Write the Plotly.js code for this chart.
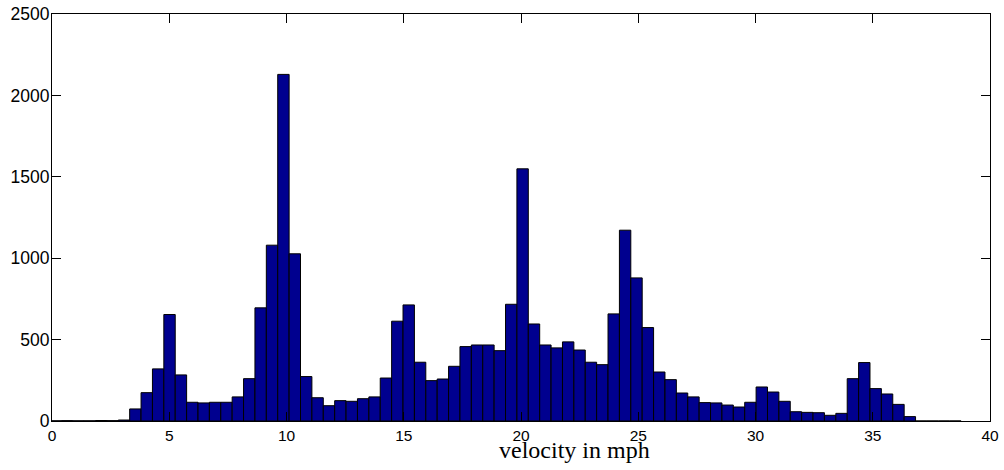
<!DOCTYPE html>
<html>
<head>
<meta charset="utf-8">
<script src="https://cdn.plot.ly/plotly-3.0.1.min.js"></script>
<style>html,body{margin:0;padding:0;background:#fff;}#chart{width:1004px;height:470px;}</style>
</head>
<body>
<div id="chart"></div>
<script>
// Histogram definition: 80 bins of equal width
var binStart = -0.088;   // left edge of first bin (mph)
var binWidth = 0.4857;   // bin width (mph)
// Counts per bin
var counts = [
  1, 2, 1, 1, 3, 2, 6,
  74, 174, 320, 654, 283, 115, 111, 115, 115, 148, 260, 695, 1080, 2129, 1027, 273, 143, 94, 125, 121, 137, 148,
  264, 613, 713, 361, 248, 258, 336, 457, 467, 467, 432, 717, 1549, 596, 467, 449, 486, 436, 361, 346, 658, 1172, 879, 574, 301, 254,
  172, 148, 113, 111, 98, 86, 115, 209, 178, 121, 57, 53, 51, 35, 47, 260, 359, 199, 166, 102, 27,
  0, 0, 0, 0
];
var xTicks = [0, 5, 10, 15, 20, 25, 30, 35, 40];
var yTicks = [0, 500, 1000, 1500, 2000, 2500];
var xLabel = 'velocity in mph';

var centers = counts.map(function(_, i){ return binStart + (i + 0.5) * binWidth; });

var trace = {
  type: 'bar',
  x: centers,
  y: counts,
  width: binWidth,
  marker: {color: 'rgb(0,0,143)', line: {color: '#000', width: 1}},
  hoverinfo: 'x+y'
};

var axisCommon = {
  showline: true, linecolor: '#000', linewidth: 1,
  mirror: 'ticks', ticks: 'inside', ticklen: 9, tickwidth: 1, tickcolor: '#000',
  showgrid: false, zeroline: false
};

var layout = {
  width: 1004, height: 470,
  margin: {l: 52, r: 14, t: 14, b: 49},
  paper_bgcolor: '#fff', plot_bgcolor: '#fff',
  showlegend: false,
  bargap: 0,
  xaxis: Object.assign({}, axisCommon, {
    range: [0, 40], tickvals: xTicks, ticktext: xTicks.map(String),
    tickfont: {family: 'Liberation Sans, Arial, sans-serif', size: 15.5, color: '#000'}
  }),
  yaxis: Object.assign({}, axisCommon, {
    range: [0, 2500], tickvals: yTicks, ticktext: yTicks.map(String),
    tickfont: {family: 'Liberation Sans, Arial, sans-serif', size: 17.5, color: '#000'},
    ticklabelstandoff: -2
  }),
  annotations: [{
    text: xLabel, xref: 'paper', yref: 'paper', x: 0.557, y: 0, yshift: -29,
    xanchor: 'center', yanchor: 'middle', showarrow: false,
    font: {family: 'Liberation Serif, Times New Roman, serif', size: 24, color: '#000'}
  }]
};

Plotly.newPlot('chart', [trace], layout, {displayModeBar: false, staticPlot: true});
</script>
</body>
</html>
